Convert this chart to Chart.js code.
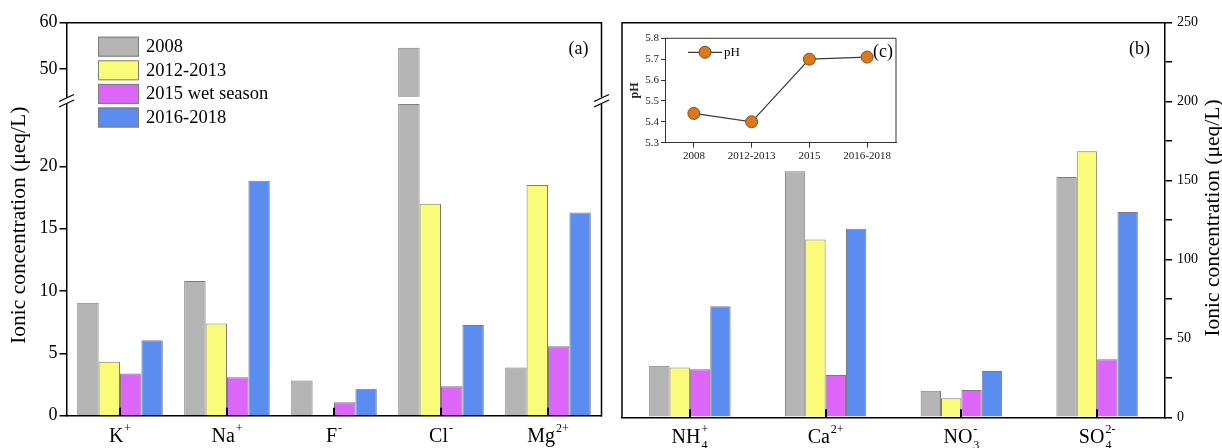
<!DOCTYPE html>
<html>
<head>
<meta charset="utf-8">
<script src="https://cdn.jsdelivr.net/npm/chart.js@4.4.1/dist/chart.umd.min.js"></script>
<style>
  html, body { margin: 0; padding: 0; background: #fff; }
  #wrap { position: relative; width: 1222px; height: 448px; overflow: hidden; }
  #wrap canvas { position: absolute; }
  #leftChart { left: 0; top: 0; width: 611px; height: 448px; }
  #rightChart { left: 611px; top: 0; width: 611px; height: 448px; }
  #phChart { left: 625px; top: 28px; width: 285px; height: 140px; }
</style>
</head>
<body>
<div id="wrap">
  <canvas id="leftChart" width="611" height="448"></canvas>
  <canvas id="rightChart" width="611" height="448"></canvas>
  <canvas id="phChart" width="285" height="140"></canvas>
</div>
<script>
// datos
const seriesLabels = ['2008', '2012-2013', '2015 wet season', '2016-2018'];

const leftIons = ['K', 'Na', 'F', 'Cl', 'Mg'];
const leftSubs = ['', '', '', '', ''];
const leftSups = ['+', '+', '-', '-', '2+'];
const left2008 = [9.05, 10.8, 2.83, 54.6, 3.87];
const left2012 = [4.32, 7.39, null, 17.0, 18.5];
const left2015 = [3.39, 3.09, 1.07, 2.37, 5.57];
const left2016 = [6.05, 18.85, 2.16, 7.28, 16.3];

const rightIons = ['NH', 'Ca', 'NO', 'SO'];
const rightSubs = ['4', '', '3', '4'];
const rightSups = ['+', '2+', '-', '2-'];
const right2008 = [32.7, 155.9, 16.8, 152.3];
const right2012 = [31.6, 112.7, 12.0, 168.5];
const right2015 = [30.4, 26.8, 17.3, 36.7];
const right2016 = [70.4, 119.4, 29.3, 130.1];

const phPeriods = ['2008', '2012-2013', '2015', '2016-2018'];
const phValues = [5.44, 5.40, 5.70, 5.71];

// eje cortado del panel (a)
const lowMax = 25;
const highMin = 44;
const highMax = 60;

const yTitle = 'Ionic concentration (\u03bceq/L)';
const FONT = '"Liberation Serif", "Times New Roman", serif';
const seriesColors = ['#b4b4b4', '#fbfb7a', '#db66f8', '#5a8def'];
const barBorder = '#7c7c7c';

function ionLabel(ions, subs, sups) {
  return ions.map((b, i) => b + subs[i] + sups[i]);
}

function drawIonLabels(chart, ions, subs, sups) {
  const {ctx, scales: {x}, chartArea} = chart;
  const base = chartArea.bottom + 26;
  ctx.save();
  ctx.fillStyle = '#000';
  ctx.textBaseline = 'alphabetic';
  ctx.textAlign = 'left';
  ions.forEach((ion, i) => {
    ctx.font = '20px ' + FONT;
    const wIon = ctx.measureText(ion).width;
    ctx.font = '12px ' + FONT;
    const wSub = subs[i] ? ctx.measureText(subs[i]).width : 0;
    const wSup = sups[i] ? ctx.measureText(sups[i]).width : 0;
    const total = wIon + 1 + Math.max(wSub, wSup);
    const x0 = x.getPixelForValue(i) - total / 2;
    ctx.font = '20px ' + FONT;
    ctx.fillText(ion, x0, base);
    ctx.font = '12px ' + FONT;
    if (sups[i]) ctx.fillText(sups[i], x0 + wIon + 1, base - 10);
    if (subs[i]) ctx.fillText(subs[i], x0 + wIon + 1, base + 6);
  });
  ctx.restore();
}

function drawInnerTicks(chart, count) {
  const {ctx, scales: {x}, chartArea} = chart;
  ctx.save();
  ctx.strokeStyle = '#000';
  ctx.lineWidth = 2;
  for (let i = 0; i < count; i++) {
    const px = Math.round(x.getPixelForValue(i));
    ctx.beginPath();
    ctx.moveTo(px, chartArea.bottom);
    ctx.lineTo(px, chartArea.bottom - 8);
    ctx.stroke();
  }
  ctx.restore();
}

function drawYTitle(chart, x, dy) {
  const {ctx, chartArea: a} = chart;
  ctx.save();
  ctx.translate(x, (a.top + a.bottom) / 2 + dy);
  ctx.rotate(-Math.PI / 2);
  ctx.font = '21.5px ' + FONT;
  ctx.fillStyle = '#000';
  ctx.textAlign = 'center';
  ctx.textBaseline = 'middle';
  ctx.fillText(yTitle, 0, 0);
  ctx.restore();
}

function drawBreak(ctx, x, y) {
  ctx.beginPath();
  ctx.moveTo(x - 7.5, y + 3.5);
  ctx.lineTo(x + 7.5, y - 3.5);
  ctx.stroke();
}

const leftDecor = {
  id: 'leftDecor',
  afterDraw(chart) {
    const {ctx, chartArea: a, scales} = chart;
    const hi = scales.yHigh, lo = scales.yLow;
    ctx.save();
    ctx.strokeStyle = '#000';
    ctx.lineWidth = 1.5;
    ctx.beginPath();
    ctx.moveTo(a.left - 0.75, a.top);
    ctx.lineTo(a.right, a.top);
    ctx.lineTo(a.right, hi.bottom);
    ctx.moveTo(a.right, lo.top);
    ctx.lineTo(a.right, a.bottom + 0.75);
    ctx.stroke();
    ctx.lineWidth = 1.3;
    [a.left, a.right].forEach(px => {
      drawBreak(ctx, px, hi.bottom + 1);
      drawBreak(ctx, px, lo.top - 0.5);
    });

    // leyenda
    ctx.font = '18.5px ' + FONT;
    ctx.textBaseline = 'middle';
    ctx.textAlign = 'left';
    seriesLabels.forEach((lab, i) => {
      const bx = a.left + 31.5, by = a.top + 14 + i * 23.6;
      ctx.fillStyle = seriesColors[i];
      ctx.fillRect(bx, by, 41, 20);
      ctx.strokeStyle = barBorder;
      ctx.lineWidth = 1;
      ctx.strokeRect(bx + 0.5, by + 0.5, 40, 19);
      ctx.fillStyle = '#000';
      ctx.fillText(lab, bx + 48, by + 10.5);
    });

    ctx.font = '18px ' + FONT;
    ctx.textAlign = 'right';
    ctx.fillText('(a)', a.right - 13, a.top + 27);
    ctx.restore();

    drawInnerTicks(chart, leftIons.length);
    drawIonLabels(chart, leftIons, leftSubs, leftSups);
    drawYTitle(chart, 19, 6);
  }
};

const rightDecor = {
  id: 'rightDecor',
  afterDraw(chart) {
    const {ctx, chartArea: a} = chart;
    ctx.save();
    ctx.strokeStyle = '#000';
    ctx.lineWidth = 1.5;
    ctx.beginPath();
    ctx.moveTo(a.left, a.bottom + 0.75);
    ctx.lineTo(a.left, a.top);
    ctx.lineTo(a.right + 0.75, a.top);
    ctx.stroke();
    ctx.font = '18px ' + FONT;
    ctx.fillStyle = '#000';
    ctx.textAlign = 'right';
    ctx.textBaseline = 'middle';
    ctx.fillText('(b)', a.right - 15, a.top + 27);
    ctx.restore();

    drawInnerTicks(chart, rightIons.length);
    drawIonLabels(chart, rightIons, rightSubs, rightSups);
    drawYTitle(chart, chart.width - 9, -2);
  }
};

const insetDecor = {
  id: 'insetDecor',
  afterDraw(chart) {
    const {ctx, chartArea: a} = chart;
    const ds = chart.data.datasets[0];
    ctx.save();
    ctx.strokeStyle = '#333';
    ctx.lineWidth = 1;
    ctx.beginPath();
    ctx.moveTo(a.left, a.top);
    ctx.lineTo(a.right, a.top);
    ctx.lineTo(a.right, a.bottom);
    ctx.stroke();

    // leyenda pH
    const ly = a.top + 14;
    ctx.strokeStyle = ds.borderColor;
    ctx.lineWidth = ds.borderWidth;
    ctx.beginPath();
    ctx.moveTo(a.left + 23, ly);
    ctx.lineTo(a.left + 57, ly);
    ctx.stroke();
    ctx.beginPath();
    ctx.arc(a.left + 40, ly, ds.pointRadius, 0, Math.PI * 2);
    ctx.fillStyle = ds.pointBackgroundColor;
    ctx.fill();
    ctx.strokeStyle = ds.pointBorderColor;
    ctx.lineWidth = ds.pointBorderWidth;
    ctx.stroke();
    ctx.fillStyle = '#000';
    ctx.font = '13px ' + FONT;
    ctx.textBaseline = 'middle';
    ctx.textAlign = 'left';
    ctx.fillText(ds.label, a.left + 59, ly + 0.5);
    ctx.font = '18px ' + FONT;
    ctx.textAlign = 'right';
    ctx.fillText('(c)', a.right - 3, ly);
    ctx.restore();
  }
};

function barSet(label, data, color, axis, stack, pct, extra) {
  return Object.assign({
    label, data,
    backgroundColor: color,
    borderColor: barBorder,
    borderWidth: 1,
    yAxisID: axis,
    stack,
    categoryPercentage: pct,
    barPercentage: 1
  }, extra || {});
}

document.addEventListener('DOMContentLoaded', function() {
  const leftSeries = [left2008, left2012, left2015, left2016];
  const rightSeries = [right2008, right2012, right2015, right2016];

  // parte baja (0-25) y parte alta (44-60) del eje cortado
  const leftDatasets = leftSeries.map((vals, i) =>
    barSet(seriesLabels[i], vals.map(v => v === null ? null : Math.min(v, lowMax)),
      seriesColors[i], 'yLow', 's' + i, 0.8));
  leftSeries.forEach((vals, i) => {
    if (vals.some(v => v !== null && v > highMin)) {
      leftDatasets.push(barSet(seriesLabels[i], vals.map(v => v !== null && v > highMin ? v : null),
        seriesColors[i], 'yHigh', 's' + i, 0.8, {base: highMin}));
    }
  });

  const yTickFont = {family: FONT, size: 18};
  const commonY = {
    stack: 'left',
    position: 'left',
    stacked: false,
    border: {color: '#000', width: 1.5},
    grid: {drawOnChartArea: false, tickLength: 7, color: '#000', lineWidth: 1.5},
    afterFit: s => { s.width = 66.5; }
  };

  new Chart(document.getElementById('leftChart'), {
    type: 'bar',
    data: {labels: ionLabel(leftIons, leftSubs, leftSups), datasets: leftDatasets},
    options: {
      responsive: false,
      animation: false,
      layout: {padding: {top: 22.7, right: 9.5, bottom: 0, left: 0}},
      plugins: {legend: {display: false}, tooltip: {enabled: false}},
      scales: {
        x: {
          grid: {display: false},
          border: {color: '#000', width: 1.5},
          ticks: {display: false},
          afterFit: s => { s.height = 32.3; }
        },
        yLow: Object.assign({}, commonY, {
          min: 0, max: lowMax, weight: 0, stackWeight: 311.7,
          ticks: {stepSize: 2.5, padding: 2, color: '#000', font: yTickFont,
            callback: v => v % 5 === 0 ? v : ''},
          afterBuildTicks: s => { s.ticks = s.ticks.filter(t => t.value < lowMax); }
        }),
        yGap: {
          type: 'linear', stack: 'left', position: 'left', weight: 1, stackWeight: 7,
          min: 0, max: 1,
          border: {display: false}, grid: {display: false}, ticks: {display: false},
          afterFit: s => { s.width = 66.5; }
        },
        yHigh: Object.assign({}, commonY, {
          min: highMin, max: highMax, weight: 2, stackWeight: 74.3,
          ticks: {stepSize: 5, padding: 2, color: '#000', font: yTickFont,
            callback: v => v % 10 === 0 ? v : ''},
          afterBuildTicks: s => { s.ticks = s.ticks.filter(t => t.value >= 50); }
        })
      }
    },
    plugins: [leftDecor]
  });

  new Chart(document.getElementById('rightChart'), {
    type: 'bar',
    data: {
      labels: ionLabel(rightIons, rightSubs, rightSups),
      datasets: rightSeries.map((vals, i) => barSet(seriesLabels[i], vals, seriesColors[i], 'y', undefined, 0.6))
    },
    options: {
      responsive: false,
      animation: false,
      layout: {padding: {top: 22.7, right: 0, bottom: 0, left: 11}},
      plugins: {legend: {display: false}, tooltip: {enabled: false}},
      scales: {
        x: {
          grid: {display: false},
          border: {color: '#000', width: 1.5},
          ticks: {display: false},
          afterFit: s => { s.height = 30.7; }
        },
        y: {
          position: 'right',
          min: 0, max: 250,
          border: {color: '#000', width: 1.5},
          grid: {drawOnChartArea: false, tickLength: 7, color: '#000', lineWidth: 1.5},
          ticks: {stepSize: 25, padding: 5, color: '#000', font: {family: FONT, size: 14},
            callback: v => v % 50 === 0 ? v : ''},
          afterFit: s => { s.width = 57; }
        }
      }
    },
    plugins: [rightDecor]
  });

  new Chart(document.getElementById('phChart'), {
    type: 'line',
    data: {
      labels: phPeriods,
      datasets: [{
        label: 'pH',
        data: phValues,
        borderColor: '#3a3a3a',
        borderWidth: 1.2,
        pointRadius: 6,
        pointBackgroundColor: '#d9781c',
        pointBorderColor: '#8a4a12',
        pointBorderWidth: 1
      }]
    },
    options: {
      responsive: false,
      animation: false,
      layout: {padding: {top: 10.3, right: 14, bottom: 0, left: 0}},
      plugins: {legend: {display: false}, tooltip: {enabled: false}},
      scales: {
        x: {
          offset: true,
          border: {color: '#333', width: 1},
          grid: {drawOnChartArea: false, tickLength: 5, color: '#333'},
          ticks: {color: '#222', padding: 2, font: {family: FONT, size: 11}},
          afterFit: s => { s.height = 25.3; }
        },
        y: {
          min: 5.3, max: 5.8,
          border: {color: '#333', width: 1},
          grid: {drawOnChartArea: false, tickLength: 4, color: '#333'},
          ticks: {stepSize: 0.1, padding: 2, color: '#222', font: {family: FONT, size: 11},
            callback: v => v.toFixed(1)},
          title: {display: true, text: 'pH', color: '#222', padding: {top: 3, bottom: 0},
            font: {family: FONT, size: 12, weight: 'bold'}},
          afterFit: s => { s.width = 40; }
        }
      }
    },
    plugins: [insetDecor]
  });
});
</script>
</body>
</html>
